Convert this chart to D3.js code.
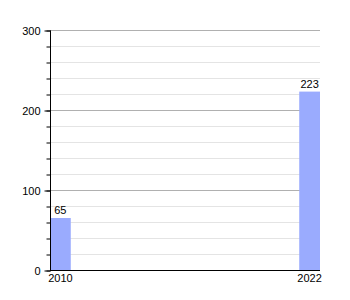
<!doctype html>
<html lang="en">
  <head>
    <meta charset="UTF-8" />
    <title>Bar chart</title>
    <script src="https://unpkg.com/d3@7.9.0/dist/d3.min.js"></script>
    <style>
      body {
        margin: 0;
        background: #fff;
      }
      svg {
        font-family: 'Liberation Sans', Arial, sans-serif;
        font-size: 11px;
        display: block;
      }
    </style>
  </head>
  <body>
    <div id="graph"></div>
    <script>
      const years = [2010, 2022];
      const values = [65, 223];
      const majorTicks = [0, 100, 200, 300];
      const minorTicks = d3.range(0, 301, 20);

      const width = 350;
      const height = 300;
      const margin = { top: 30, right: 30, bottom: 30, left: 50 };

      const svg = d3
        .select('#graph')
        .append('svg')
        .attr('width', width)
        .attr('height', height);

      const x = d3
        .scaleLinear()
        .domain([2010, 2023])
        .range([margin.left, width - margin.right]);

      const y = d3
        .scaleLinear()
        .domain([0, 300])
        .range([height - margin.bottom, margin.top]);

      // minor gridlines
      svg
        .selectAll('.minor')
        .data(minorTicks.filter((d) => d % 100 !== 0))
        .enter()
        .append('line')
        .attr('x1', margin.left)
        .attr('x2', width - margin.right)
        .attr('y1', (d) => y(d) + 0.5)
        .attr('y2', (d) => y(d) + 0.5)
        .attr('stroke', '#e4e4e4');

      // major gridlines
      svg
        .selectAll('.major')
        .data(majorTicks.filter((d) => d > 0))
        .enter()
        .append('line')
        .attr('x1', margin.left)
        .attr('x2', width - margin.right)
        .attr('y1', (d) => y(d) + 0.5)
        .attr('y2', (d) => y(d) + 0.5)
        .attr('stroke', '#b0b0b0');

      // bars
      svg
        .selectAll('.bar')
        .data(years)
        .enter()
        .append('rect')
        .attr('x', (d) => x(d))
        .attr('width', (d) => x(d + 1) - x(d))
        .attr('y', (d, i) => y(values[i]))
        .attr('height', (d, i) => y(0) - y(values[i]))
        .attr('fill', '#9aabfe');

      // value labels
      svg
        .selectAll('.val')
        .data(years)
        .enter()
        .append('text')
        .attr('x', (d) => (x(d) + x(d + 1)) / 2)
        .attr('y', (d, i) => y(values[i]) - 4)
        .attr('text-anchor', 'middle')
        .attr('fill', '#000')
        .text((d, i) => values[i]);

      // y axis with minor ticks
      const yAxisMinor = d3
        .axisLeft(y)
        .tickValues(minorTicks)
        .tickSize(4)
        .tickFormat('');
      svg
        .append('g')
        .attr('transform', `translate(${margin.left + 0.5},0.5)`)
        .call(yAxisMinor)
        .call((g) => g.select('.domain').remove());

      const yAxis = d3
        .axisLeft(y)
        .tickValues(majorTicks)
        .tickSize(6)
        .tickPadding(4);
      svg
        .append('g')
        .attr('transform', `translate(${margin.left + 0.5},0.5)`)
        .call(yAxis)
        .call((g) => g.select('.domain').attr('d', `M0,${y(300)}V${y(0)}`))
        .call((g) => g.selectAll('text').attr('font-size', 11).attr('font-family', 'Liberation Sans, Arial, sans-serif').attr('fill', '#000'));

      // x axis
      svg
        .append('line')
        .attr('x1', margin.left)
        .attr('x2', width - margin.right)
        .attr('y1', y(0) + 0.5)
        .attr('y2', y(0) + 0.5)
        .attr('stroke', '#000');

      svg
        .selectAll('.xlab')
        .data(years)
        .enter()
        .append('text')
        .attr('x', (d) => (x(d) + x(d + 1)) / 2)
        .attr('y', y(0) + 12)
        .attr('text-anchor', 'middle')
        .attr('fill', '#000')
        .text((d) => d);
    </script>
  </body>
</html>
